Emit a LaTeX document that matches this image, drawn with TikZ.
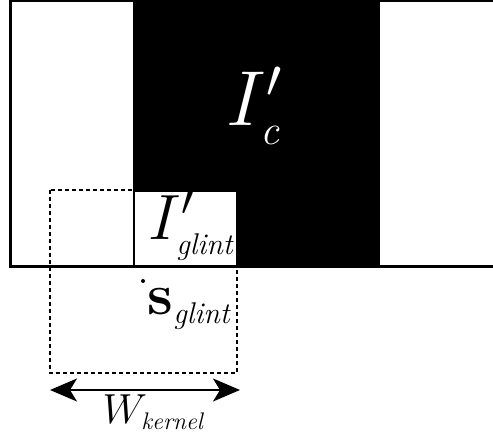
\RequirePackage{fix-cm}
\documentclass[tikz,border=0pt]{standalone}
\usepackage{amsmath}
\usetikzlibrary{arrows.meta,positioning}
\newcommand{\lblsub}[2]{\mbox{\fontsize{#1}{#1}\selectfont\itshape #2}}

\begin{document}
\begin{tikzpicture}[x=1pt, y=-1pt,
  frame/.style={line width=3pt},
  kernelbox/.style={line width=1.3pt, dash pattern=on 4pt off 3pt},
  span/.style={line width=2pt,
               {Stealth[length=27pt,width=23pt,inset=7pt]}-{Stealth[length=27pt,width=23pt,inset=7pt]}},
  lbl/.style={inner sep=0pt}
]
\useasboundingbox (0,0) rectangle (493,438);

% image regions
\fill[black] (133,0) rectangle (380,267);
\fill[white] (135,192) rectangle (236,265);
\draw[frame] (10,0.5) rectangle (500,267);

% kernel window
\draw[kernelbox] (50,190) rectangle (237,373);
\fill (143,281) circle (2);

\node[lbl, white, font=\fontsize{78}{78}\selectfont] (ic) at (254,106) {$I'_{\lblsub{42}{c}}$};
\node[lbl, font=\fontsize{64}{64}\selectfont] (iglint) at (191,226) {$I'_{\lblsub{30}{glint}}$};
\node[lbl, font=\fontsize{58}{58}\selectfont] (sglint) at (189,309) {$\mathbf{s}_{\lblsub{30}{glint}}$};

% kernel width
\coordinate (kl) at (50,390);
\coordinate (kr) at (240,390);
\draw[span] (kl) -- (kr);
\node[lbl, font=\fontsize{42}{42}\selectfont] (wk) at (153,412) {$W_{\lblsub{24}{kernel}}$};
\end{tikzpicture}
\end{document}
